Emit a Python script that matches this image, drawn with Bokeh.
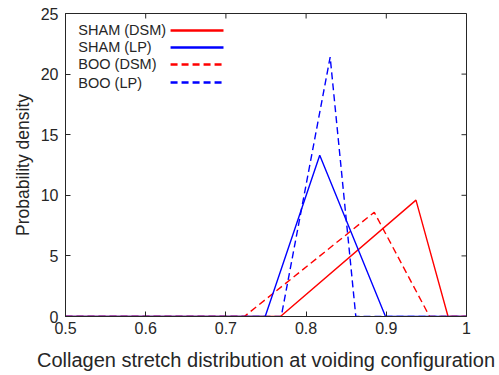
import math
from bokeh.plotting import figure
from bokeh.models import FixedTicker, Range1d, Label
from bokeh.embed import file_html
from bokeh.resources import INLINE

# Data
sham_dsm_x = [0.5, 0.768, 0.937, 0.977, 1.0]
sham_dsm_y = [0, 0, 9.6, 0, 0]
sham_lp_x = [0.5, 0.749, 0.817, 0.899, 1.0]
sham_lp_y = [0, 0, 13.3, 0, 0]
boo_dsm_x = [0.5, 0.723, 0.885, 0.954, 1.0]
boo_dsm_y = [0, 0, 8.6, 0, 0]
boo_lp_x = [0.5, 0.769, 0.830, 0.862, 1.0]
boo_lp_y = [0, 0, 21.4, 0, 0]

labels = ["SHAM (DSM)", "SHAM (LP)", "BOO (DSM)", "BOO (LP)"]
x_ticks = [0.5, 0.6, 0.7, 0.8, 0.9, 1.0]
y_ticks = [0, 5, 10, 15, 20, 25]
X0, X1, Y0, Y1 = 0.5, 1.0, 0, 25

RED = "#ff0000"
BLUE = "#0000ff"
AX = "#262626"
FONT = "Liberation Sans"

p = figure(frame_width=401, frame_height=303, output_backend="svg", toolbar_location=None,
           x_range=Range1d(X0, X1), y_range=Range1d(Y0, Y1),
           min_border_left=65, min_border_right=33, min_border_top=13, min_border_bottom=59)
p.grid.visible = False
p.outline_line_color = AX
p.outline_line_width = 1
p.background_fill_color = "white"
p.border_fill_color = "white"

for ax, ticks in ((p.xaxis[0], x_ticks), (p.yaxis[0], y_ticks)):
    ax.ticker = FixedTicker(ticks=ticks)
    ax.major_tick_in = 5
    ax.major_tick_out = 0
    ax.minor_tick_line_color = None
    ax.axis_line_color = AX
    ax.major_tick_line_color = AX
    ax.major_label_text_font = FONT
    ax.major_label_text_font_size = "16px"
    ax.major_label_text_color = AX
    ax.axis_label_text_font = FONT
    ax.axis_label_text_font_style = "normal"
    ax.axis_label_text_color = AX

p.xaxis[0].major_label_overrides = {1.0: "1"}
p.xaxis[0].axis_label = "Collagen stretch distribution at voiding configuration"
p.xaxis[0].axis_label_text_font_size = "20px"
p.xaxis[0].major_label_standoff = 5
p.xaxis[0].axis_label_standoff = 12
p.yaxis[0].axis_label = "Probability density"
p.yaxis[0].axis_label_text_font_size = "17.5px"
p.yaxis[0].major_label_standoff = 7
p.yaxis[0].axis_label_standoff = 5

# Mirror tick marks (inward) on top and right edges
p.ray(x=x_ticks, y=[Y1] * len(x_ticks), length=5, length_units="screen",
      angle=-math.pi / 2, line_color=AX, line_width=1)
p.ray(x=[X1] * len(y_ticks), y=y_ticks, length=5, length_units="screen",
      angle=math.pi, line_color=AX, line_width=1)

lw = 1.4
p.line(boo_lp_x, boo_lp_y, line_color=BLUE, line_width=lw, line_dash="7 4")
p.line(boo_dsm_x, boo_dsm_y, line_color=RED, line_width=lw, line_dash="7 4")
p.line(sham_dsm_x, sham_dsm_y, line_color=RED, line_width=lw)
p.line(sham_lp_x, sham_lp_y, line_color=BLUE, line_width=lw)

# Legend (text on the left, line sample on the right), no box
leg_colors = [RED, BLUE, RED, BLUE]
leg_dash = ["solid", "solid", "7 4", "7 4"]
leg_y = [23.6, 22.2, 20.8, 19.3]
for lab, col, dash, yy in zip(labels, leg_colors, leg_dash, leg_y):
    p.add_layout(Label(x=0.516, y=yy, text=lab, text_font=FONT, text_font_size="14.5px",
                       text_color=AX, text_baseline="middle"))
    p.segment(x0=[0.631], y0=[yy], x1=[0.697], y1=[yy], line_color=col,
              line_width=2.5, line_dash=dash)

open("out.html", "w").write(file_html(p, INLINE))
